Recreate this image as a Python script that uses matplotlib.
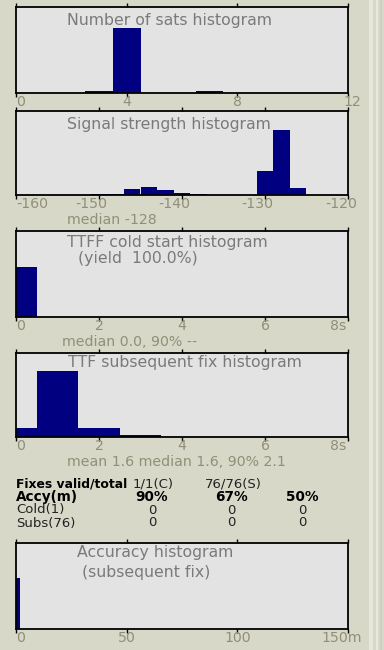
import matplotlib
matplotlib.use("Agg")
import matplotlib.pyplot as plt
from matplotlib.patches import Rectangle
from matplotlib.transforms import ScaledTranslation

# ---- data -------------------------------------------------------------
sats_bins = [3, 4, 7]
sats_counts = [2, 74, 2]
sats_ticks = [0, 4, 8, 12]
sats_ticklabels = ["0", "4", "8", "12"]

signal_bins = [-150, -148, -146, -144, -142, -140, -138, -136, -134, -132, -130, -128, -126]
signal_counts = [3, 3, 19, 25, 16, 6, 3, 0, 0, 0, 74, 200, 22]
signal_ticks = [-160, -150, -140, -130, -120]
signal_ticklabels = ["-160", "-150", "-140", "-130", "-120"]

cold_bins = [0]
cold_counts = [1]
time_ticks = [0, 2, 4, 6, 8]
time_ticklabels = ["0", "2", "4", "6", "8s"]

subs_bins = [0, 1, 2, 3]
subs_counts = [8, 58, 8, 2]

accy_bins = [0]
accy_counts = [76]
accy_ticks = [0, 50, 100, 150]
accy_ticklabels = ["0", "50", "100", "150m"]

fix_row = ["Fixes valid/total", "1/1(C)", "76/76(S)"]
accy_header = ["Accy(m)", "90%", "67%", "50%"]
accy_rows = [["Cold(1)", "0", "0", "0"], ["Subs(76)", "0", "0", "0"]]

# ---- style ------------------------------------------------------------
W, H = 384, 650
BG = "#d8d8c9"
FACE = "#e3e3e3"
NAVY = "#000080"
TITLE_C = "#7a7a7a"
TICK_C = "#909078"
FONT = "DejaVu Sans"
TITLE_FS = 11.3
TICK_FS = 10.2
TABLE_FS = 9.5

plt.rcParams["font.family"] = [FONT]

fig = plt.figure(figsize=(W / 100, H / 100), dpi=100, facecolor=BG)

# right-hand window frame strip
for x0, w, c in [(369, 4, "#e6e6da"), (376, 2, "#e8e8dd"), (380, 2, "#cfcfc0")]:
    fig.patches.append(Rectangle((x0 / W, 0), w / W, 1, transform=fig.transFigure,
                                 facecolor=c, edgecolor="none", zorder=0))


def px_axes(x0, y0, x1, y1):
    return fig.add_axes([x0 / W, 1 - y1 / H, (x1 - x0) / W, (y1 - y0) / H])


def ftext(x, y, txt, **kw):
    opts = dict(ha="left", va="center")
    opts.update(kw)
    fig.text(x / W, 1 - y / H, txt, **opts)


def histogram_panel(y0, y1, bins, counts, width, xlim, ylim_top, ticks, labels,
                    title_lines, label_shift=None):
    ax = px_axes(16, y0, 348, y1)
    ax.set_facecolor(FACE)
    ax.bar(bins, counts, width=width, color=NAVY, edgecolor="none", zorder=2)
    ax.set_xlim(*xlim)
    ax.set_ylim(0, ylim_top)
    ax.set_yticks([])
    ax.set_xticks(ticks)
    ax.set_xticklabels(labels, fontsize=TICK_FS, color=TICK_C)
    ax.tick_params(axis="x", which="both", direction="out", length=3, width=1,
                   color="black", pad=-1.8, top=True, labeltop=False)
    for s in ax.spines.values():
        s.set_linewidth(1.3)
        s.set_color("black")
    tl = ax.get_xticklabels()
    tl[0].set_horizontalalignment("left")
    if label_shift:
        for lbl, dx in zip(tl, label_shift):
            lbl.set_transform(lbl.get_transform() +
                              ScaledTranslation(dx / 100, 0, fig.dpi_scale_trans))
    for (tx, ty, txt) in title_lines:
        ftext(tx, ty, txt, fontsize=TITLE_FS, color=TITLE_C)
    return ax


histogram_panel(7, 93, sats_bins, sats_counts, 1.0, (0, 12), 98,
                sats_ticks, sats_ticklabels,
                [(67, 21, "Number of sats histogram")],
                label_shift=[0, 0, 0, 4])

histogram_panel(111, 195, signal_bins, signal_counts, 2.0, (-160, -120), 258,
                signal_ticks, signal_ticklabels,
                [(67, 125, "Signal strength histogram")],
                label_shift=[0, -8, -8, -8, -7])
ftext(67, 220, "median -128", fontsize=TICK_FS, color=TICK_C)

histogram_panel(231, 317, cold_bins, cold_counts, 1.0, (0, 8), 1.72,
                time_ticks, time_ticklabels,
                [(67, 243, "TTFF cold start histogram"), (78, 258, "(yield  100.0%)")],
                label_shift=[0, 0, 0, 0, -10])
ftext(62, 342, "median 0.0, 90% --", fontsize=TICK_FS, color=TICK_C)

histogram_panel(353, 437, subs_bins, subs_counts, 1.0, (0, 8), 73.8,
                time_ticks, time_ticklabels,
                [(68, 363, "TTF subsequent fix histogram")],
                label_shift=[0, 0, 0, 0, -10])
ftext(67, 462, "mean 1.6 median 1.6, 90% 2.1", fontsize=TICK_FS, color=TICK_C)

# ---- accuracy table ----------------------------------------------------
ftext(16, 484, fix_row[0], fontsize=8.9, fontweight="bold", color="black")
ftext(133, 484, fix_row[1], fontsize=TABLE_FS, color="#222222")
ftext(205, 484, fix_row[2], fontsize=TABLE_FS, color="#222222")

col_x = [16, 152, 231, 302]
ftext(col_x[0], 497, accy_header[0], fontsize=9.8, fontweight="bold", color="black")
for cx, txt in zip(col_x[1:], accy_header[1:]):
    ftext(cx, 497, txt, ha="center", fontsize=9.8, fontweight="bold", color="black")
for row, ry in zip(accy_rows, [510, 523]):
    ftext(col_x[0], ry, row[0], fontsize=TABLE_FS, color="#222222")
    for cx, txt in zip(col_x[1:], row[1:]):
        ftext(cx, ry, txt, ha="center", fontsize=TABLE_FS, color="#222222")

histogram_panel(543, 629, accy_bins, accy_counts, 4.0, (0, 150), 128,
                accy_ticks, accy_ticklabels,
                [(77, 552, "Accuracy histogram"), (82, 572, "(subsequent fix)")],
                label_shift=[0, 0, 0, -6])

fig.savefig("out.png", dpi=100, facecolor=BG)
